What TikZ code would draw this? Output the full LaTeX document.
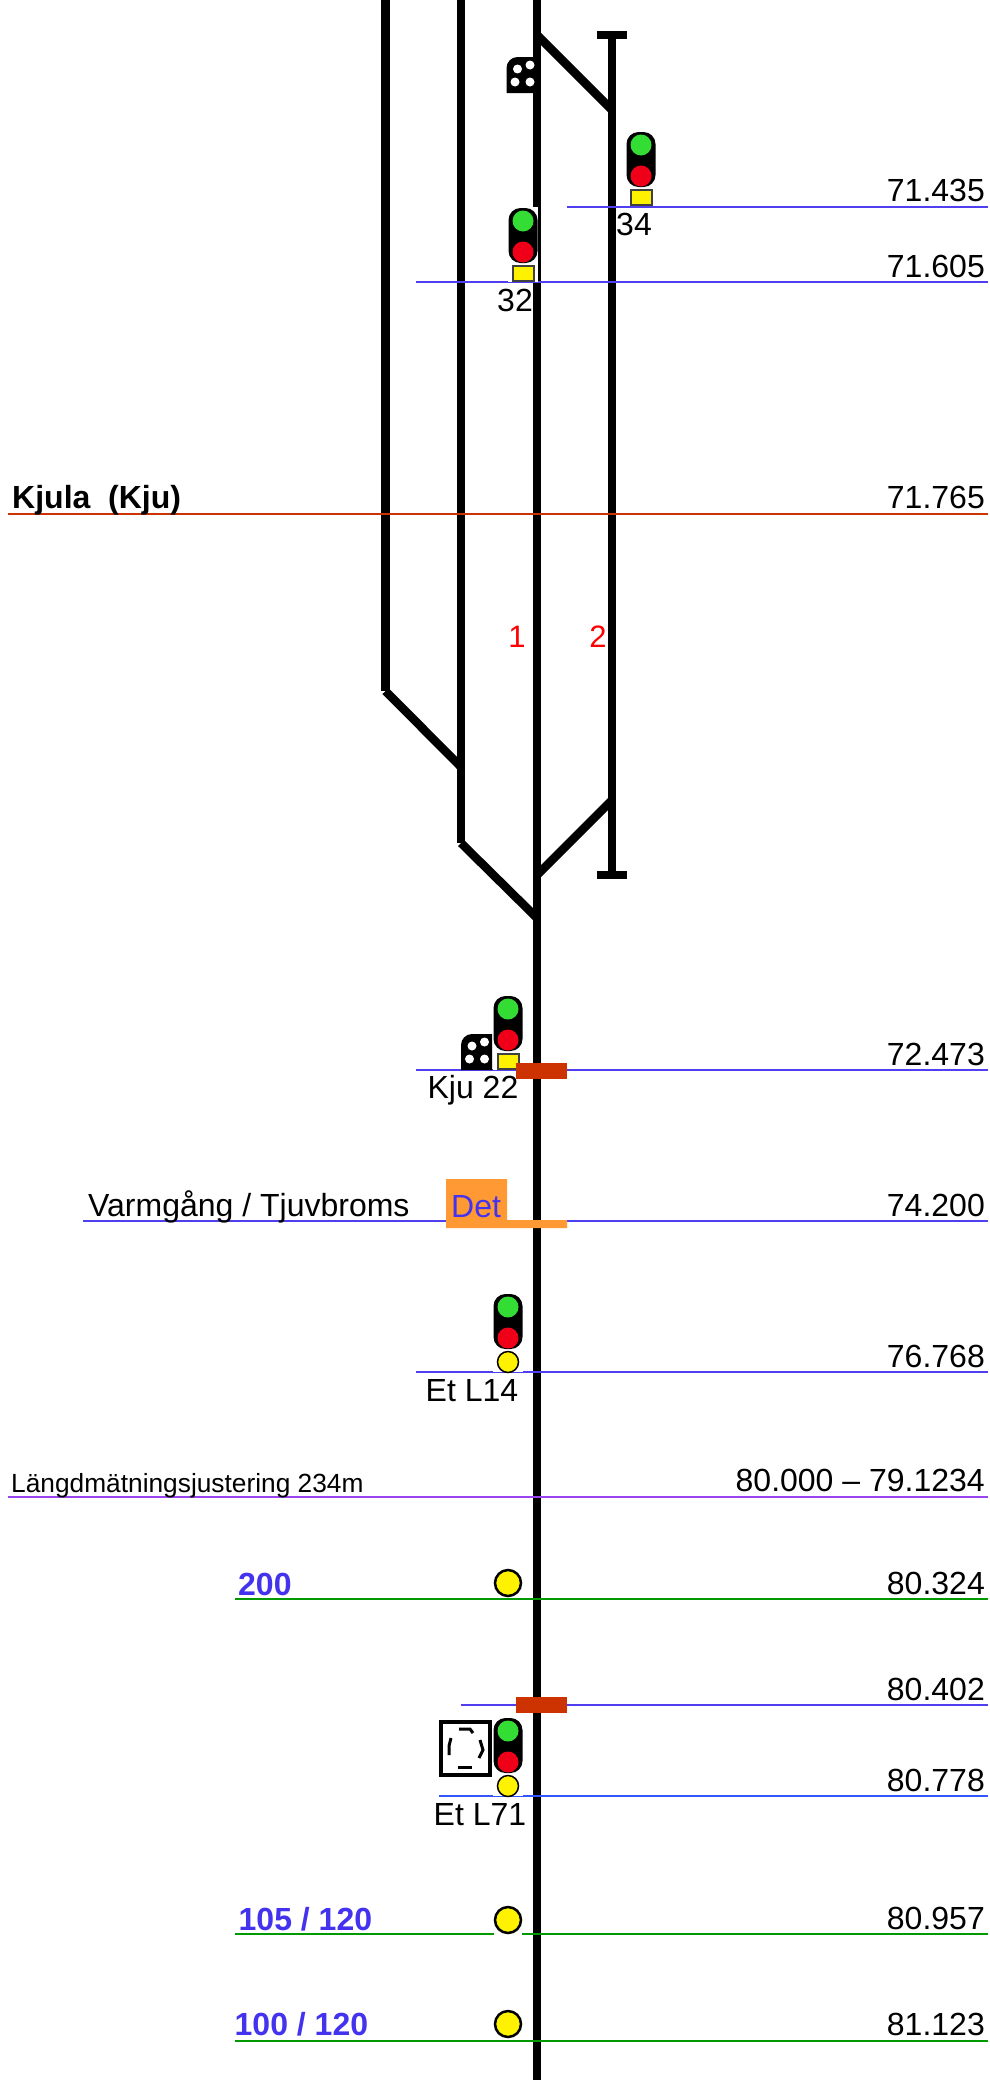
\documentclass[tikz,border=0pt]{standalone}
\usepackage{fontspec}
\setmainfont{Liberation Sans}
\usetikzlibrary{positioning}

\definecolor{kmblue}{HTML}{4F3FF0}
\definecolor{kmblue2}{HTML}{3355FF}
\definecolor{kmgreen}{HTML}{009900}
\definecolor{kmpurple}{HTML}{9944EE}
\definecolor{kmbrown}{HTML}{CC3300}
\definecolor{speedblue}{HTML}{4433EE}
\definecolor{blockred}{HTML}{CC3300}
\definecolor{detorange}{HTML}{FF9933}
\definecolor{lampgreen}{HTML}{33DD33}
\definecolor{lampred}{HTML}{F00018}
\definecolor{lampyellow}{HTML}{FFF200}

\begin{document}
\begin{tikzpicture}[
        x=1pt,
        y=-1pt,
        track/.style={
            line width=8.5pt,
            black,
        },
        kmline/.style={
            line width=2pt,
            kmblue,
        },
        kmlabel/.style={
            anchor=base east,
            inner sep=0pt,
            font=\fontsize{32}{32}\selectfont,
        },
        leftlabel/.style={
            anchor=base west,
            inner sep=0pt,
            font=\fontsize{32}{32}\selectfont,
        },
        siglabel/.style={
            anchor=base,
            inner sep=0pt,
            font=\fontsize{32}{32}\selectfont,
        },
        speedlabel/.style={
            anchor=base west,
            inner sep=0pt,
            text=speedblue,
            font=\bfseries\fontsize{32}{32}\selectfont,
        },
        tracknum/.style={
            inner sep=0pt,
            text=red,
            font=\fontsize{31}{31}\selectfont,
        },
        lamp/.style={
            circle,
            inner sep=0pt,
            minimum size=21pt,
        },
        balise/.style={
            circle,
            draw=black,
            line width=2.5pt,
            fill=lampyellow,
            inner sep=0pt,
            minimum size=26pt,
        },
        block/.style={
            rectangle,
            fill=blockred,
            inner sep=0pt,
            minimum width=51pt,
            minimum height=16pt,
        },
        dot/.style={
            circle,
            fill=white,
            inner sep=0pt,
            minimum size=9pt,
        },
        boardseg/.style={
            line width=3pt,
            black,
        },
        signalhead/.pic={
            \node[rectangle, rounded corners=12pt, fill=black, inner sep=0pt,
                minimum width=29pt, minimum height=55pt] (-body) at (0,27.5) {};
            \node[lamp, fill=lampgreen] (-green) at (0,13) {};
            \node[lamp, fill=lampred] (-red) at (0,44) {};
        },
        squarefoot/.pic={
            \fill[white] (-15,-1) rectangle (15,74);
            \node[rectangle, draw=black!75, line width=2pt, fill=lampyellow, inner sep=0pt,
                minimum width=21pt, minimum height=15pt] (-foot) at (0,65.5) {};
        },
        roundfoot/.pic={
            \fill[white] (-15,-1) rectangle (15,78);
            \node[circle, draw=black, line width=1.5pt, fill=lampyellow, inner sep=0pt,
                minimum size=21pt] (-foot) at (0,68) {};
        },
        dotboard/.pic={
            \fill[black] (0,36) -- (0,11) .. controls (0,5) and (5,0) .. (11,0) -- (31,0) -- (31,36) -- cycle;
            \node[dot] (-d1) at (11,12) {};
            \node[dot] (-d2) at (23.5,8) {};
            \node[dot] (-d3) at (8.5,25) {};
            \node[dot] (-d4) at (23.5,25) {};
        },
    ]
        \useasboundingbox (0,0) rectangle (990,2080);

        % track ends
        \coordinate (t1top) at (537,-5);
        \coordinate (t1bot) at (537,2085);
        \coordinate (t1a) at (537,35);
        \coordinate (t1b) at (537,875);
        \coordinate (t1c) at (537,918);
        \coordinate (t2top) at (612,35);
        \coordinate (t2a) at (612,110);
        \coordinate (t2b) at (612,800);
        \coordinate (t2bot) at (612,875);
        \coordinate (t3top) at (461,-5);
        \coordinate (t3a) at (461,767);
        \coordinate (t3b) at (461,843);
        \coordinate (t4top) at (385.5,-5);
        \coordinate (t4a) at (385.5,691);

        \draw[track] (t1top) -- (t1bot);
        \draw[track] (t2top) -- (t2bot);
        \draw[track] (t3top) -- (t3b);
        \draw[track] (t3b) -- (t1c);
        \draw[track] (t4top) -- (t4a);
        \draw[track] (t4a) -- (t3a);
        \draw[track] (t1a) -- (t2a);
        \draw[track] (t2b) -- (t1b);
        \draw[track] ([xshift=-15pt]t2top) -- ([xshift=15pt]t2top);
        \draw[track] ([xshift=-15pt]t2bot) -- ([xshift=15pt]t2bot);

        \node[tracknum] (num1) at (517,637) {1};
        \node[tracknum] (num2) at (598,637) {2};

        % km lines
        \coordinate (l71435a) at (567,206.7);
        \coordinate (l71435b) at (988,206.7);
        \draw[kmline] (l71435a) -- (l71435b);
        \node[kmlabel] (km71435) at (985,201.7) {71.435};

        \coordinate (l71605a) at (416,282.3);
        \coordinate (l71605b) at (988,282.3);
        \draw[kmline] (l71605a) -- (l71605b);
        \node[kmlabel] (km71605) at (985,277.3) {71.605};

        \coordinate (l71765a) at (8,513.5);
        \coordinate (l71765b) at (988,513.5);
        \draw[kmline, kmbrown] (l71765a) -- (l71765b);
        \node[kmlabel] (km71765) at (985,508.5) {71.765};
        \node[leftlabel, font=\bfseries\fontsize{32}{32}\selectfont] (kjula) at (12,508.5) {Kjula\ \ (Kju)};

        \coordinate (l72473a) at (416,1070);
        \coordinate (l72473b) at (988,1070);
        \draw[kmline] (l72473a) -- (l72473b);
        \node[kmlabel] (km72473) at (985,1065) {72.473};

        \coordinate (l74200a) at (83,1221.3);
        \coordinate (l74200b) at (988,1221.3);
        \draw[kmline] (l74200a) -- (l74200b);
        \node[kmlabel] (km74200) at (985,1216.5) {74.200};
        \node[leftlabel] (varm) at (88,1216.5) {Varmgång / Tjuvbroms};

        \coordinate (l76768a) at (416,1372.3);
        \coordinate (l76768b) at (988,1372.3);
        \draw[kmline] (l76768a) -- (l76768b);
        \node[kmlabel] (km76768) at (985,1367.3) {76.768};

        \coordinate (l80000a) at (8,1496.7);
        \coordinate (l80000b) at (988,1496.7);
        \draw[kmline, kmpurple] (l80000a) -- (l80000b);
        \node[kmlabel] (km80000) at (985,1491.7) {80.000 – 79.1234};
        \node[leftlabel, font=\fontsize{26.3}{26.3}\selectfont] (langd) at (11,1492) {Längdmätningsjustering 234m};

        \coordinate (l80324a) at (235,1599.3);
        \coordinate (l80324b) at (988,1599.3);
        \draw[kmline, kmgreen] (l80324a) -- (l80324b);
        \node[kmlabel] (km80324) at (985,1594.3) {80.324};
        \node[speedlabel] (sp200) at (238,1595) {200};

        \coordinate (l80402a) at (461,1705);
        \coordinate (l80402b) at (988,1705);
        \draw[kmline] (l80402a) -- (l80402b);
        \node[kmlabel] (km80402) at (985,1700) {80.402};

        \coordinate (l80778a) at (439,1796);
        \coordinate (l80778b) at (988,1796);
        \draw[kmline, kmblue2] (l80778a) -- (l80778b);
        \node[kmlabel] (km80778) at (985,1791) {80.778};

        \coordinate (l80957a) at (235,1934);
        \coordinate (l80957b) at (988,1934);
        \draw[kmline, kmgreen] (l80957a) -- (l80957b);
        \node[kmlabel] (km80957) at (985,1929) {80.957};
        \node[speedlabel] (sp105) at (238.5,1930) {105 / 120};

        \coordinate (l81123a) at (235,2040.7);
        \coordinate (l81123b) at (988,2040.7);
        \draw[kmline, kmgreen] (l81123a) -- (l81123b);
        \node[kmlabel] (km81123) at (985,2035.7) {81.123};
        \node[speedlabel] (sp100) at (234.5,2035.7) {100 / 120};

        % signals
        \pic (sig34f) at (641,132) {squarefoot};
        \pic (sig34) at (641,132) {signalhead};
        \node[siglabel] (lab34) at (634,235) {34};

        \pic (sig32f) at (523,208) {squarefoot};
        \pic (sig32) at (523,208) {signalhead};
        \node[siglabel] (lab32) at (515,311.7) {32};

        \pic (sig22f) at (508,996) {squarefoot};
        \pic (sig22) at (508,996) {signalhead};
        \node[siglabel] (lab22) at (473,1098) {Kju 22};

        \pic (sigL14f) at (508,1294) {roundfoot};
        \pic (sigL14) at (508,1294) {signalhead};
        \node[siglabel] (lab14) at (472,1401) {Et L14};

        \pic (sigL71f) at (508,1718) {roundfoot};
        \pic (sigL71) at (508,1718) {signalhead};
        \node[siglabel] (lab71) at (480,1825) {Et L71};

        % boards
        \pic (board1) at (506.5,57) {dotboard};
        \pic (board2) at (461,1034) {dotboard};

        \node[rectangle, draw=black, line width=4pt, fill=white, inner sep=0pt,
            minimum width=49pt, minimum height=53pt] (frame71) at (465.5,1748.5) {};
        \draw[boardseg] (459,1729) -- (470,1729) -- (473,1733);
        \draw[boardseg] (451,1738) -- (449,1746) -- (449,1755);
        \draw[boardseg] (480,1740) -- (483,1750) -- (479,1758);
        \draw[boardseg] (458,1767.5) -- (472,1767.5);

        % balises
        \node[balise] (bal200) at (508,1583) {};
        \fill[white] (494,1933) rectangle (522,1935);
        \node[balise] (bal105) at (508,1920) {};
        \node[balise] (bal100) at (508,2024) {};

        % blocks
        \node[block] (block1) at (541.5,1070.5) {};
        \node[block] (block2) at (541.5,1705) {};

        % detector
        \fill[detorange] (446,1179) -- (507,1179) -- (507,1220) -- (567,1220) -- (567,1228) -- (446,1228) -- cycle;
        \node[leftlabel, text=speedblue] (det) at (451,1217) {Det};
    \end{tikzpicture}
\end{document}
